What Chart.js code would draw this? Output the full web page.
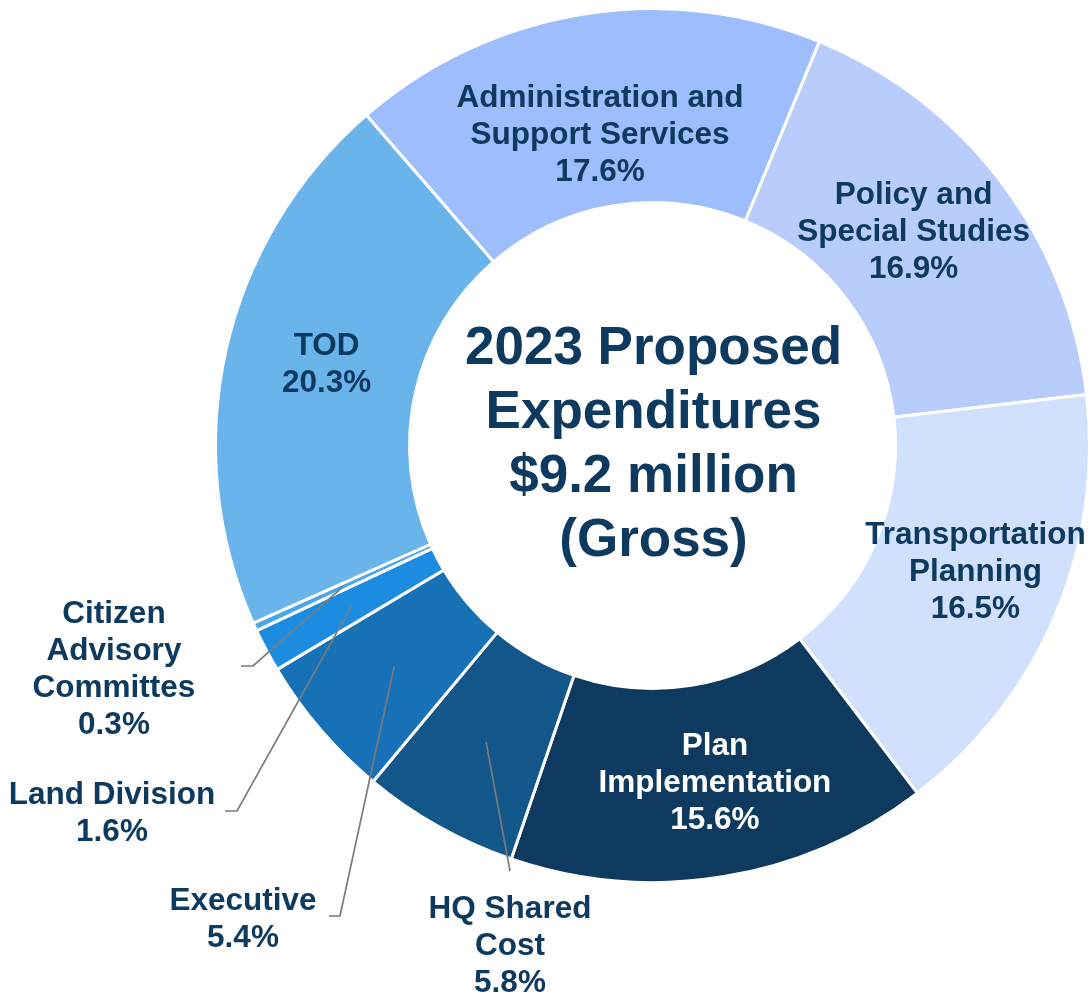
<!DOCTYPE html>
<html>
<head>
<meta charset="utf-8">
<script src="https://cdn.jsdelivr.net/npm/chart.js@4.4.0/dist/chart.umd.min.js"></script>
<style>
  html, body { margin: 0; padding: 0; background: #fff; }
  canvas { display: block; }
</style>
</head>
<body>
<canvas id="chart" width="1091" height="994"></canvas>
<script>
// data
const categories = [
  ['Administration and', 'Support Services'],
  ['Policy and', 'Special Studies'],
  ['Transportation', 'Planning'],
  ['Plan', 'Implementation'],
  ['HQ Shared', 'Cost'],
  ['Executive'],
  ['Land Division'],
  ['Citizen', 'Advisory', 'Committes'],
  ['TOD']
];
const shares = [17.6, 16.9, 16.5, 15.6, 5.8, 5.4, 1.6, 0.3, 20.3];
const colors = ['#9DBDFD', '#B8CDFB', '#D1E0FD', '#0E3A60', '#12568A', '#1771B7', '#1B8CE0', '#49A6EA', '#6AB4EC'];
const centerTitle = ['2023 Proposed', 'Expenditures', '$9.2 million', '(Gross)'];

const NAVY = '#0E3A60';
const FONT = '"Liberation Sans", Arial, sans-serif';
const LINE_H = 37;

// label placement: inside labels = nudge from arc midpoint,
// outside labels = leader elbow / stub end / first text line centre
const labelLayout = [
  { dx: 2, dy: 25 },
  { dx: -10, dy: -8 },
  { dx: 10, dy: -6 },
  { dx: 8, dy: 2, color: '#fff' },
  { elbow: [510, 871], text: [510, 909] },
  { elbow: [340, 916], stub: 329, text: [243, 901] },
  { elbow: [237, 811], stub: 225, text: [112, 795] },
  { elbow: [253, 666], stub: 241, text: [114, 614] },
  { dx: 6, dy: -7 }
];

function drawLines(ctx, lines, x, y, color) {
  ctx.fillStyle = color;
  lines.forEach((t, i) => ctx.fillText(t, x, y + i * LINE_H));
}

const sliceLabels = {
  id: 'sliceLabels',
  afterDatasetsDraw(chart) {
    const ctx = chart.ctx;
    const meta = chart.getDatasetMeta(0);
    ctx.save();
    ctx.font = 'bold 31.5px ' + FONT;
    ctx.textAlign = 'center';
    ctx.textBaseline = 'middle';
    meta.data.forEach((arc, i) => {
      const lines = categories[i].concat(shares[i].toFixed(1) + '%');
      const lay = labelLayout[i];
      if (lay.elbow) {
        const p = arc.getProps(['x', 'y', 'startAngle', 'endAngle', 'innerRadius', 'outerRadius'], true);
        const a = (p.startAngle + p.endAngle) / 2;
        const r = (p.innerRadius + p.outerRadius) / 2;
        ctx.strokeStyle = '#7A7A7A';
        ctx.lineWidth = 1.7;
        ctx.beginPath();
        ctx.moveTo(p.x + Math.cos(a) * r, p.y + Math.sin(a) * r);
        ctx.lineTo(lay.elbow[0], lay.elbow[1]);
        if (lay.stub) ctx.lineTo(lay.stub, lay.elbow[1]);
        ctx.stroke();
        drawLines(ctx, lines, lay.text[0], lay.text[1], NAVY);
      } else {
        const pos = arc.tooltipPosition(true);
        const y0 = pos.y + lay.dy - (lines.length - 1) * LINE_H / 2;
        drawLines(ctx, lines, pos.x + lay.dx, y0, lay.color || NAVY);
      }
    });

    // centre title
    const c = meta.data[0].getProps(['x', 'y'], true);
    ctx.font = 'bold 53px ' + FONT;
    ctx.textBaseline = 'alphabetic';
    ctx.fillStyle = NAVY;
    centerTitle.forEach((t, i) => ctx.fillText(t, c.x + 1, c.y - 82 + i * 64));
    ctx.restore();
  }
};

new Chart(document.getElementById('chart'), {
  type: 'doughnut',
  data: {
    labels: categories.map(l => l.join(' ')),
    datasets: [{
      data: shares,
      backgroundColor: colors,
      borderColor: '#ffffff',
      borderWidth: 3
    }]
  },
  options: {
    responsive: false,
    animation: false,
    rotation: -40.9,
    cutout: '55.6%',
    layout: { padding: { left: 214, right: 0, top: 7, bottom: 110 } },
    plugins: {
      legend: { display: false },
      tooltip: { enabled: false }
    }
  },
  plugins: [sliceLabels]
});
</script>
</body>
</html>
